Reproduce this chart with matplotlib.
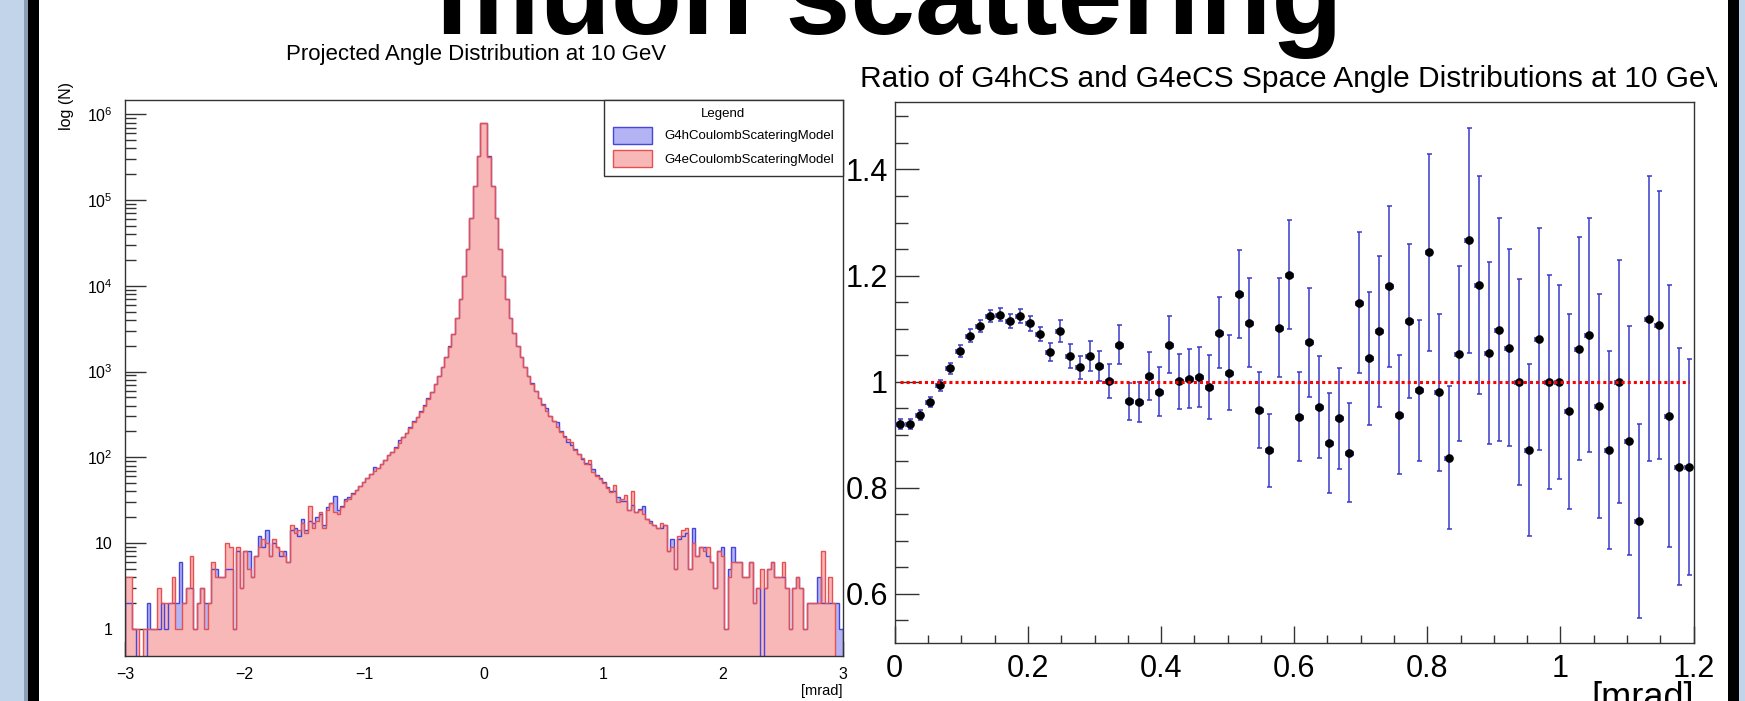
import numpy as np
import matplotlib.pyplot as plt
from matplotlib.patches import Patch, Rectangle
from matplotlib.ticker import MultipleLocator, LogLocator, FuncFormatter, NullFormatter
from matplotlib.transforms import Bbox, TransformedBbox

SANS = ['Liberation Sans', 'DejaVu Sans']
plt.rcParams['font.family'] = SANS

# projected angle, 200 bins over [-3, 3] mrad
angle_range = (-3.0, 3.0)

# G4hCoulombScatteringModel counts per bin
h_counts = [
    2, 2, 1, 0, 0, 0, 2, 1, 1, 1, 2, 1, 2, 2, 2, 6, 2, 3, 3, 1,
    2, 3, 2, 2, 5, 5, 4, 4, 5, 5, 1, 8, 3, 8, 8, 4, 7, 12, 9, 14,
    7, 10, 9, 7, 8, 6, 14, 15, 12, 19, 14, 18, 17, 20, 22, 16, 26, 29, 35, 24,
    27, 33, 34,
    38, 42, 46, 52, 57, 64, 76, 75, 84, 92, 106, 116, 131, 160, 171, 193, 224,
    268, 298, 343, 402, 486, 584, 712, 884, 1125, 1468, 1958, 2762, 4185,
    6950, 12950, 26950, 61800, 144200, 324500, 795500,
    793500, 323000, 144600, 62300, 27200, 13050, 7000, 4210, 2790, 1975,
    1490, 1135, 895, 725, 595, 495, 420, 372, 305, 265, 258, 200, 176, 150,
    138, 124, 110, 96, 86, 84, 72, 62, 57, 51, 45, 40, 40,
    34, 31, 31, 24, 28, 23, 25, 27, 19, 18, 16, 15, 15, 16, 8, 11, 5, 11, 12, 13,
    5, 15, 7, 9, 9, 7, 6, 3, 8, 9, 1, 5, 9, 6, 6, 4, 4, 6, 2, 3,
    0, 3, 5, 6, 4, 4, 4, 3, 1, 3, 4, 3, 1, 2, 2, 2, 4, 2, 2, 2,
    2, 2, 1,
]

# G4eCoulombScatteringModel counts per bin
e_counts = [
    4, 4, 1, 1, 0, 1, 1, 1, 1, 3, 2, 2, 2, 4, 1, 1, 2, 3, 7, 1,
    2, 3, 1, 2, 6, 4, 4, 4, 10, 9, 1, 9, 3, 8, 5, 4, 7, 9, 11, 10,
    7, 11, 9, 8, 7, 6, 16, 13, 14, 17, 13, 27, 15, 18, 23, 15, 24, 29, 23, 22,
    26, 31, 33,
    37, 41, 46, 51, 58, 63, 69, 74, 83, 93, 105, 115, 129, 148, 170, 192, 222,
    255, 295, 340, 400, 480, 580, 710, 880, 1120, 1470, 1950, 2750, 4170,
    6920, 12900, 26900, 61700, 144500, 323600, 794000,
    792000, 322000, 145000, 62000, 27100, 13000, 6980, 4200, 2780, 1960,
    1480, 1130, 890, 720, 590, 490, 410, 345, 300, 262, 228, 198, 174, 162,
    150, 122, 108, 97, 84, 92, 68, 61, 56, 50, 44, 39, 47,
    30, 33, 36, 24, 40, 23, 24, 22, 19, 17, 16, 15, 17, 16, 8, 9, 5, 12, 14, 15,
    5, 10, 7, 9, 8, 9, 6, 3, 8, 7, 1, 4, 6, 6, 6, 4, 4, 6, 2, 3,
    5, 3, 5, 6, 4, 4, 6, 3, 1, 3, 4, 3, 1, 2, 2, 2, 2, 8, 2, 4,
    2, 0, 0,
]

# ratio G4hCS / G4eCS of the space angle, 80 bins over [0, 1.2] mrad
ratio_range = (0.0, 1.2)
ratio = [
    0.920, 0.920, 0.937, 0.962, 0.993, 1.025, 1.058, 1.087, 1.105, 1.124,
    1.126, 1.114, 1.124, 1.110, 1.090, 1.056, 1.095, 1.048, 1.027, 1.048,
    1.030, 1.001, 1.070, 0.963, 0.962, 1.011, 0.981, 1.070, 1.001, 1.006,
    1.009, 0.990, 1.092, 1.017, 1.165, 1.111, 0.947, 0.871, 1.102, 1.202,
    0.934, 1.074, 0.952, 0.885, 0.931, 0.866, 1.149, 1.044, 1.095, 1.180,
    0.938, 1.115, 0.984, 1.244, 0.980, 0.857, 1.053, 1.267, 1.182, 1.054,
    1.098, 1.064, 1.000, 0.871, 1.080, 1.000, 1.000, 0.944, 1.062, 1.088,
    0.954, 0.871, 1.000, 0.889, 0.737, 1.119, 1.107, 0.935, 0.840, 0.839,
]
ratio_err = [
    0.010, 0.010, 0.010, 0.010, 0.010, 0.011, 0.011, 0.012, 0.012, 0.012,
    0.012, 0.013, 0.013, 0.014, 0.014, 0.017, 0.021, 0.023, 0.022, 0.028,
    0.028, 0.032, 0.037, 0.035, 0.037, 0.045, 0.046, 0.053, 0.052, 0.056,
    0.057, 0.061, 0.067, 0.071, 0.083, 0.084, 0.072, 0.069, 0.094, 0.103,
    0.084, 0.103, 0.096, 0.094, 0.095, 0.093, 0.133, 0.126, 0.142, 0.152,
    0.112, 0.145, 0.133, 0.186, 0.148, 0.134, 0.165, 0.212, 0.206, 0.171,
    0.210, 0.186, 0.194, 0.162, 0.209, 0.202, 0.183, 0.184, 0.210, 0.220,
    0.211, 0.187, 0.229, 0.216, 0.183, 0.269, 0.252, 0.247, 0.223, 0.204,
]
ref_level = 1.0

BLUE_FILL, BLUE_LINE = '#b4b4f4', '#4646dc'
RED_FILL, RED_LINE = '#f9b8b8', '#e65050'
FRAME = '#333333'

W, H = 1745, 701
fig = plt.figure(figsize=(W / 100, H / 100), dpi=100)

# slide background, in pixel coordinates
ov = fig.add_axes([0, 0, 1, 1])
ov.set_xlim(0, W)
ov.set_ylim(H, 0)
ov.axis('off')
ov.add_patch(Rectangle((0, 0), 26, H, color='#c2d4ea', lw=0))
ov.add_patch(Rectangle((24, 0), 4, H, color='#8d9db3', lw=0))
ov.add_patch(Rectangle((28, 0), 11, H, color='black', lw=0))
ov.add_patch(Rectangle((1728, 0), 11, H, color='black', lw=0))
ov.add_patch(Rectangle((1739, 0), 6, H, color='#c2d4ea', lw=0))

ov.text(889, 34, 'muon scattering', ha='center', va='baseline',
        fontsize=84, fontweight='bold')
ov.text(476, 60, 'Projected Angle Distribution at 10 GeV', ha='center',
        va='baseline', fontsize=16)
rt = ov.text(860, 87, 'Ratio of G4hCS and G4eCS Space Angle Distributions at 10 GeV',
             ha='left', va='baseline', fontsize=21.5)
rt.set_clip_box(TransformedBbox(Bbox.from_extents(0, 0, 1717 / W, 1), fig.transFigure))
rt.set_clip_on(True)

# left: projected angle histograms
ax1 = fig.add_axes([125 / W, 1 - 656 / H, 717.5 / W, 556.5 / H])
edges = np.linspace(angle_range[0], angle_range[1], len(h_counts) + 1)
ax1.set_yscale('log')
ax1.stairs(h_counts, edges, fill=True, baseline=1e-3, color=BLUE_FILL, lw=0)
ax1.stairs(e_counts, edges, fill=True, baseline=1e-3, color=RED_FILL, lw=0)
ax1.stairs(h_counts, edges, baseline=1e-3, color=BLUE_LINE, lw=1.0)
ax1.stairs(e_counts, edges, baseline=1e-3, color=RED_LINE, lw=1.0)
ax1.set_xlim(angle_range)
ax1.set_ylim(0.48, 1.49e6)
ax1.set_axisbelow(True)


def pow_label(v, pos):
    e = int(round(np.log10(v)))
    if e == 0:
        return '1'
    if e == 1:
        return '10'
    return r'$\mathregular{10^{%d}}$' % e


ax1.yaxis.set_major_locator(LogLocator(base=10, numticks=12))
ax1.yaxis.set_minor_locator(LogLocator(base=10, subs=np.arange(2, 10), numticks=12))
ax1.yaxis.set_major_formatter(FuncFormatter(pow_label))
ax1.yaxis.set_minor_formatter(NullFormatter())
ax1.xaxis.set_major_locator(MultipleLocator(1))
ax1.xaxis.set_minor_locator(MultipleLocator(0.2))
ax1.xaxis.set_major_formatter(FuncFormatter(lambda v, p: f'{v:g}'.replace('-', '\u2212')))
ax1.tick_params(which='both', direction='in', color=FRAME, width=1, top=False, right=False)
ax1.tick_params(axis='y', which='major', length=15, labelsize=11.5, pad=9)
ax1.tick_params(axis='y', which='minor', length=8)
ax1.tick_params(axis='x', which='major', length=11, labelsize=11.5, pad=8)
ax1.tick_params(axis='x', which='minor', length=6)
for s in ax1.spines.values():
    s.set_color(FRAME)
    s.set_linewidth(1.0)

ax1.set_ylabel('log (N)', fontsize=11.5)
ax1.yaxis.set_label_coords((74 - 125) / 717.5, (656 - 106) / 556.5)
ax1.set_xlabel('[mrad]', fontsize=10.5, loc='right')
ax1.xaxis.set_label_coords(1.0, -(684 - 656) / 556.5)

handles = [Patch(facecolor=BLUE_FILL, edgecolor=BLUE_LINE, label='G4hCoulombScateringModel'),
           Patch(facecolor=RED_FILL, edgecolor=RED_LINE, label='G4eCoulombScateringModel')]
leg = ax1.legend(handles=handles, title='Legend', loc='upper right', bbox_to_anchor=(1, 1),
                 borderaxespad=0, fancybox=False, edgecolor=FRAME, framealpha=1,
                 fontsize=9.5, title_fontsize=9.5, handlelength=3.0, handleheight=1.6,
                 handletextpad=0.9, labelspacing=0.5, borderpad=0.65)
leg.get_frame().set_linewidth(1.0)

# right: ratio of the space angle distributions
ax2 = fig.add_axes([894.8 / W, 1 - 643 / H, 798.8 / W, 541.2 / H])
r_edges = np.linspace(ratio_range[0], ratio_range[1], len(ratio) + 1)
centers = 0.5 * (r_edges[:-1] + r_edges[1:])
ax2.errorbar(centers, ratio, yerr=ratio_err, xerr=0.35 * np.diff(r_edges), fmt='o',
             ms=5.2, mfc='black', mec='black', ecolor='#3a3ac8', elinewidth=1.1,
             capsize=1.8, capthick=1.1, zorder=3)
ax2.hlines(ref_level, centers[0], centers[-1], colors='red', linestyles=(0, (1, 1)),
           lw=2.2, zorder=4)
ax2.set_xlim(ratio_range)
ax2.set_ylim(0.5075, 1.5276)
ax2.xaxis.set_major_locator(MultipleLocator(0.2))
ax2.xaxis.set_minor_locator(MultipleLocator(0.05))
ax2.yaxis.set_major_locator(MultipleLocator(0.2))
ax2.yaxis.set_minor_locator(MultipleLocator(0.05))
fmt = FuncFormatter(lambda v, p: f'{v:g}')
ax2.xaxis.set_major_formatter(fmt)
ax2.yaxis.set_major_formatter(fmt)
ax2.tick_params(which='both', direction='in', color=FRAME, width=1, top=False, right=False,
                labelsize=22)
ax2.tick_params(axis='x', which='major', length=12, pad=8)
ax2.tick_params(axis='x', which='minor', length=6)
ax2.tick_params(axis='y', which='major', length=17, pad=5)
ax2.tick_params(axis='y', which='minor', length=9)
for s in ax2.spines.values():
    s.set_color(FRAME)
    s.set_linewidth(1.0)
ax2.set_xlabel('[mrad]', fontsize=26, loc='right')
ax2.xaxis.set_label_coords(1.0, -(681 - 643) / 541.2)

fig.savefig('out.png', dpi=100)
